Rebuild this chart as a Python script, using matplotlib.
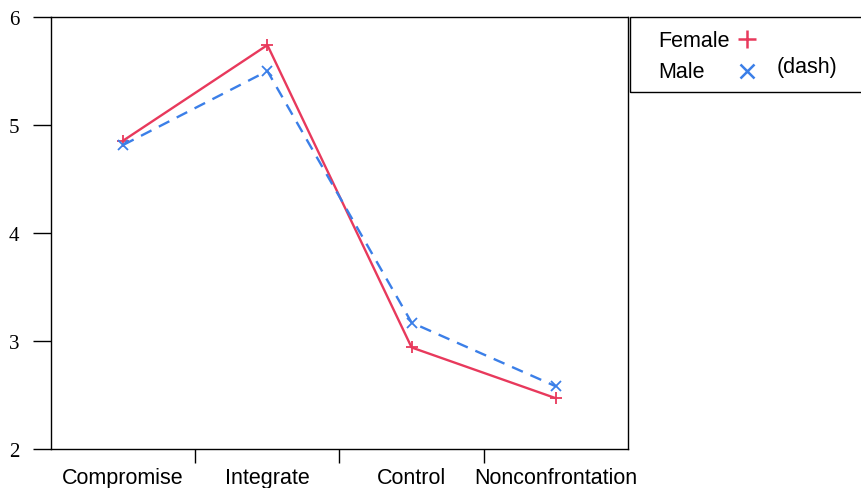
import matplotlib.pyplot as plt
from matplotlib.patches import Rectangle
from matplotlib.lines import Line2D

categories = ['Compromise', 'Integrate', 'Control', 'Nonconfrontation']
female = [4.855, 5.74, 2.94, 2.47]
male = [4.815, 5.50, 3.17, 2.58]
yticks = [2, 3, 4, 5, 6]

red = '#E8395C'
blue = '#3B7FE8'

fig = plt.figure(figsize=(8.62, 4.89), dpi=100)
ax = fig.add_axes([51/862, 1-450/489, (628-51)/862, (450-18)/489])

x = range(1, len(categories) + 1)
ax.plot(x, female, color=red, lw=1.7, marker='+', ms=8, mew=1.3)
ax.plot(x, male, color=blue, lw=1.7, ls=(0, (5, 3.5)), marker='x', ms=7, mew=1.3)

ax.set_xlim(0.5, 4.5)
ax.set_ylim(2, 6)

# ticks between the categories, labels centred on the categories
ax.set_xticks([1.5, 2.5, 3.5])
ax.set_xticklabels([])
ax.set_xticks(list(x), minor=True)
ax.set_xticklabels(categories, minor=True, fontsize=15.5, family='Liberation Sans')
ax.tick_params(axis='x', which='major', length=10, width=1, direction='out')
ax.tick_params(axis='x', which='minor', length=0, pad=13)

ax.set_yticks(yticks)
ax.set_yticklabels([str(v) for v in yticks], fontsize=15, family='Liberation Serif')
ax.tick_params(axis='y', length=13, width=1, direction='out', pad=10)
for s in ax.spines.values():
    s.set_linewidth(1)

# legend box drawn by hand, runs off the right edge
fig.patches.append(Rectangle((630/862, 1-93/489), 0.3, (93-18)/489, transform=fig.transFigure,
                             fill=False, edgecolor='black', lw=1))
fig.text(658/862, 1-42/489, 'Female', fontsize=15.5, family='Liberation Sans', va='center')
fig.text(658/862, 1-73/489, 'Male', fontsize=15.5, family='Liberation Sans', va='center')
fig.text(777/862, 1-68/489, '(dash)', fontsize=15.5, family='Liberation Sans', va='center')
fig.lines.append(Line2D([747/862], [1-40/489], transform=fig.transFigure, color=red,
                        marker='+', ms=13, mew=1.8, ls='none'))
fig.lines.append(Line2D([747/862], [1-72/489], transform=fig.transFigure, color=blue,
                        marker='x', ms=10, mew=1.8, ls='none'))

fig.savefig('out.png', dpi=100)
